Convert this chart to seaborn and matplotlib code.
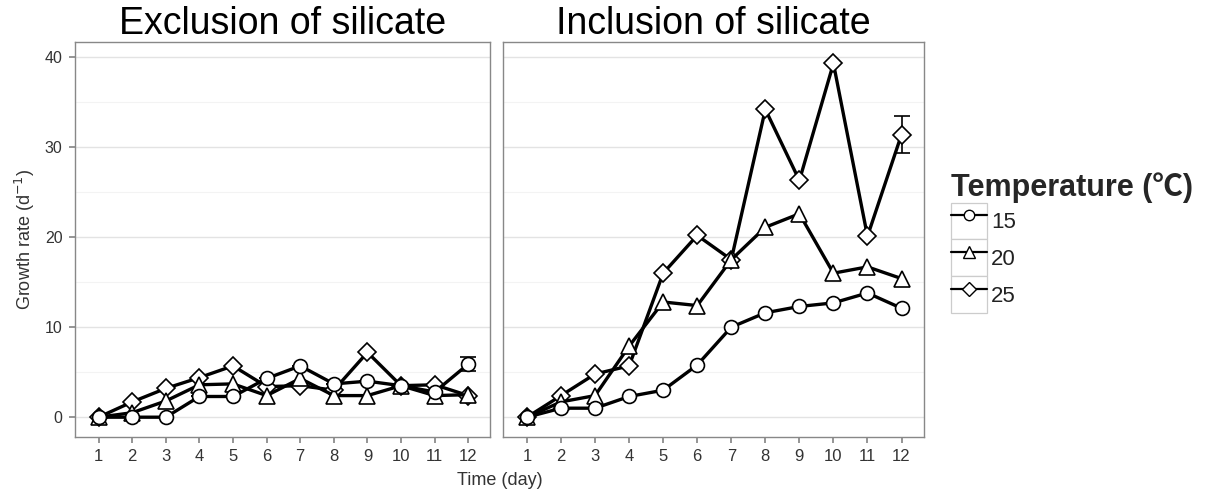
import numpy as np
import pandas as pd
import matplotlib
matplotlib.use("Agg")
import matplotlib.pyplot as plt
from matplotlib.lines import Line2D
from matplotlib.patches import Rectangle
from matplotlib.legend_handler import HandlerLine2D
import seaborn as sns

days = list(range(1, 13))
temps = ["15", "20", "25"]

excl_15 = [0, 0, 0, 2.3, 2.3, 4.3, 5.7, 3.7, 4.0, 3.5, 2.8, 5.9]
excl_20 = [0, 0.5, 1.8, 3.6, 3.7, 2.4, 4.3, 2.4, 2.4, 3.5, 2.4, 2.5]
excl_25 = [0, 1.7, 3.2, 4.4, 5.7, 3.4, 3.5, 3.0, 7.2, 3.5, 3.6, 2.4]
excl_err_15 = [0, 0, 0, 0, 0, 0, 0, 0, 0, 0, 0, 0.75]

incl_15 = [0, 1.0, 1.0, 2.3, 3.0, 5.8, 10.0, 11.6, 12.3, 12.7, 13.8, 12.1]
incl_20 = [0, 1.7, 2.4, 7.9, 12.8, 12.4, 17.5, 21.1, 22.6, 16.0, 16.7, 15.4]
incl_25 = [0, 2.4, 4.8, 5.7, 16.0, 20.2, 17.5, 34.2, 26.3, 39.3, 20.1, 31.4]
incl_err_25 = [0, 0, 0, 0, 0, 0, 0, 0, 0, 0, 0, 2.1]

panel_titles = ["Exclusion of silicate", "Inclusion of silicate"]
y_ticks = [0, 10, 20, 30, 40]

sns.set_theme(style="white")
FAM = ['Liberation Sans', 'Noto Sans CJK SC', 'DejaVu Sans']
plt.rcParams['font.family'] = FAM

markers = {"15": "o", "20": "^", "25": "D"}
msizes = {"15": 10, "20": 12, "25": 9}

fig = plt.figure(figsize=(12.11, 4.98), dpi=100)
ax1 = fig.add_axes([0.062, 0.1225, 0.343, 0.7935])
ax2 = fig.add_axes([0.4155, 0.1225, 0.3475, 0.7935])

datasets = [
    {"15": excl_15, "20": excl_20, "25": excl_25},
    {"15": incl_15, "20": incl_20, "25": incl_25},
]
errs = [("15", excl_err_15), ("25", incl_err_25)]

for i, (ax, data) in enumerate(zip([ax1, ax2], datasets)):
    ax.set_facecolor("white")
    for yv in [5, 15, 25, 35]:
        ax.axhline(yv, color="#F3F3F3", lw=0.8, zorder=0)
    for yv in y_ticks:
        ax.axhline(yv, color="#E3E3E3", lw=1.0, zorder=0)
    tkey, terr = errs[i]
    ax.errorbar(days, data[tkey], yerr=terr, fmt="none", ecolor="black",
                elinewidth=1.2, capsize=6, capthick=1.2, zorder=2)
    for t in ["25", "20", "15"]:
        df = pd.DataFrame({"day": days, "rate": data[t]})
        sns.lineplot(data=df, x="day", y="rate", ax=ax, color="black", lw=2.4,
                     marker=markers[t], markersize=msizes[t],
                     markerfacecolor="white", markeredgecolor="black",
                     markeredgewidth=1.2, zorder=3)
    ax.set_xlim(0.3, 12.66)
    ax.set_ylim(-2.2, 41.7)
    ax.set_xticks(days)
    ax.set_xticklabels([str(d) for d in days], fontsize=12, color="#333333")
    ax.set_title(panel_titles[i], fontsize=27, pad=2, color="black")
    ax.set_xlabel("")
    ax.set_ylabel("")
    for s in ax.spines.values():
        s.set_color("#888888")
        s.set_linewidth(1.0)
    ax.tick_params(axis="both", which="both", length=4, color="#888888",
                   direction="out", bottom=True, left=(i == 0), pad=5)
    ax.set_yticks(y_ticks)
    if i == 0:
        ax.set_yticklabels([str(v) for v in y_ticks], fontsize=11.5, color="#333333")
    else:
        ax.set_yticklabels([])
        ax.tick_params(axis="y", length=0)

fig.text(0.011, 0.52, r"Growth rate (d$^{-1}$)", rotation=90, ha="left",
         va="center", fontsize=13, color="#333333")
fig.text(0.413, 0.035, "Time (day)", ha="center", va="center", fontsize=13,
         color="#333333")


class BoxedHandler(HandlerLine2D):
    def create_artists(self, legend, orig_handle, xdescent, ydescent, width,
                       height, fontsize, trans):
        arts = super().create_artists(legend, orig_handle, xdescent, ydescent,
                                      width, height, fontsize, trans)
        rect = Rectangle((-xdescent, -ydescent), width, height,
                         facecolor="white", edgecolor="#CCCCCC", lw=0.9,
                         transform=trans, zorder=0)
        return [rect] + list(arts)


handles = [Line2D([0], [0], color="black", lw=1.6, marker=markers[t],
                  markersize=msizes[t] * 0.75, markerfacecolor="white",
                  markeredgecolor="black", markeredgewidth=1.0) for t in temps]
leg = fig.legend(handles, temps, loc="upper left", bbox_to_anchor=(0.785, 0.655),
                 frameon=False, fontsize=16, handlelength=1.62, handleheight=2.18,
                 handletextpad=0.2, labelspacing=0.0, borderpad=0.0,
                 borderaxespad=0.0,
                 prop={"family": FAM, "size": 16},
                 title="Temperature (\u2103)",
                 title_fontproperties={"family": FAM, "size": 22, "weight": "bold"},
                 alignment="left",
                 handler_map={Line2D: BoxedHandler(numpoints=1)})
for txt in leg.get_texts():
    txt.set_color("#222222")

fig.savefig("out.png", dpi=100)
